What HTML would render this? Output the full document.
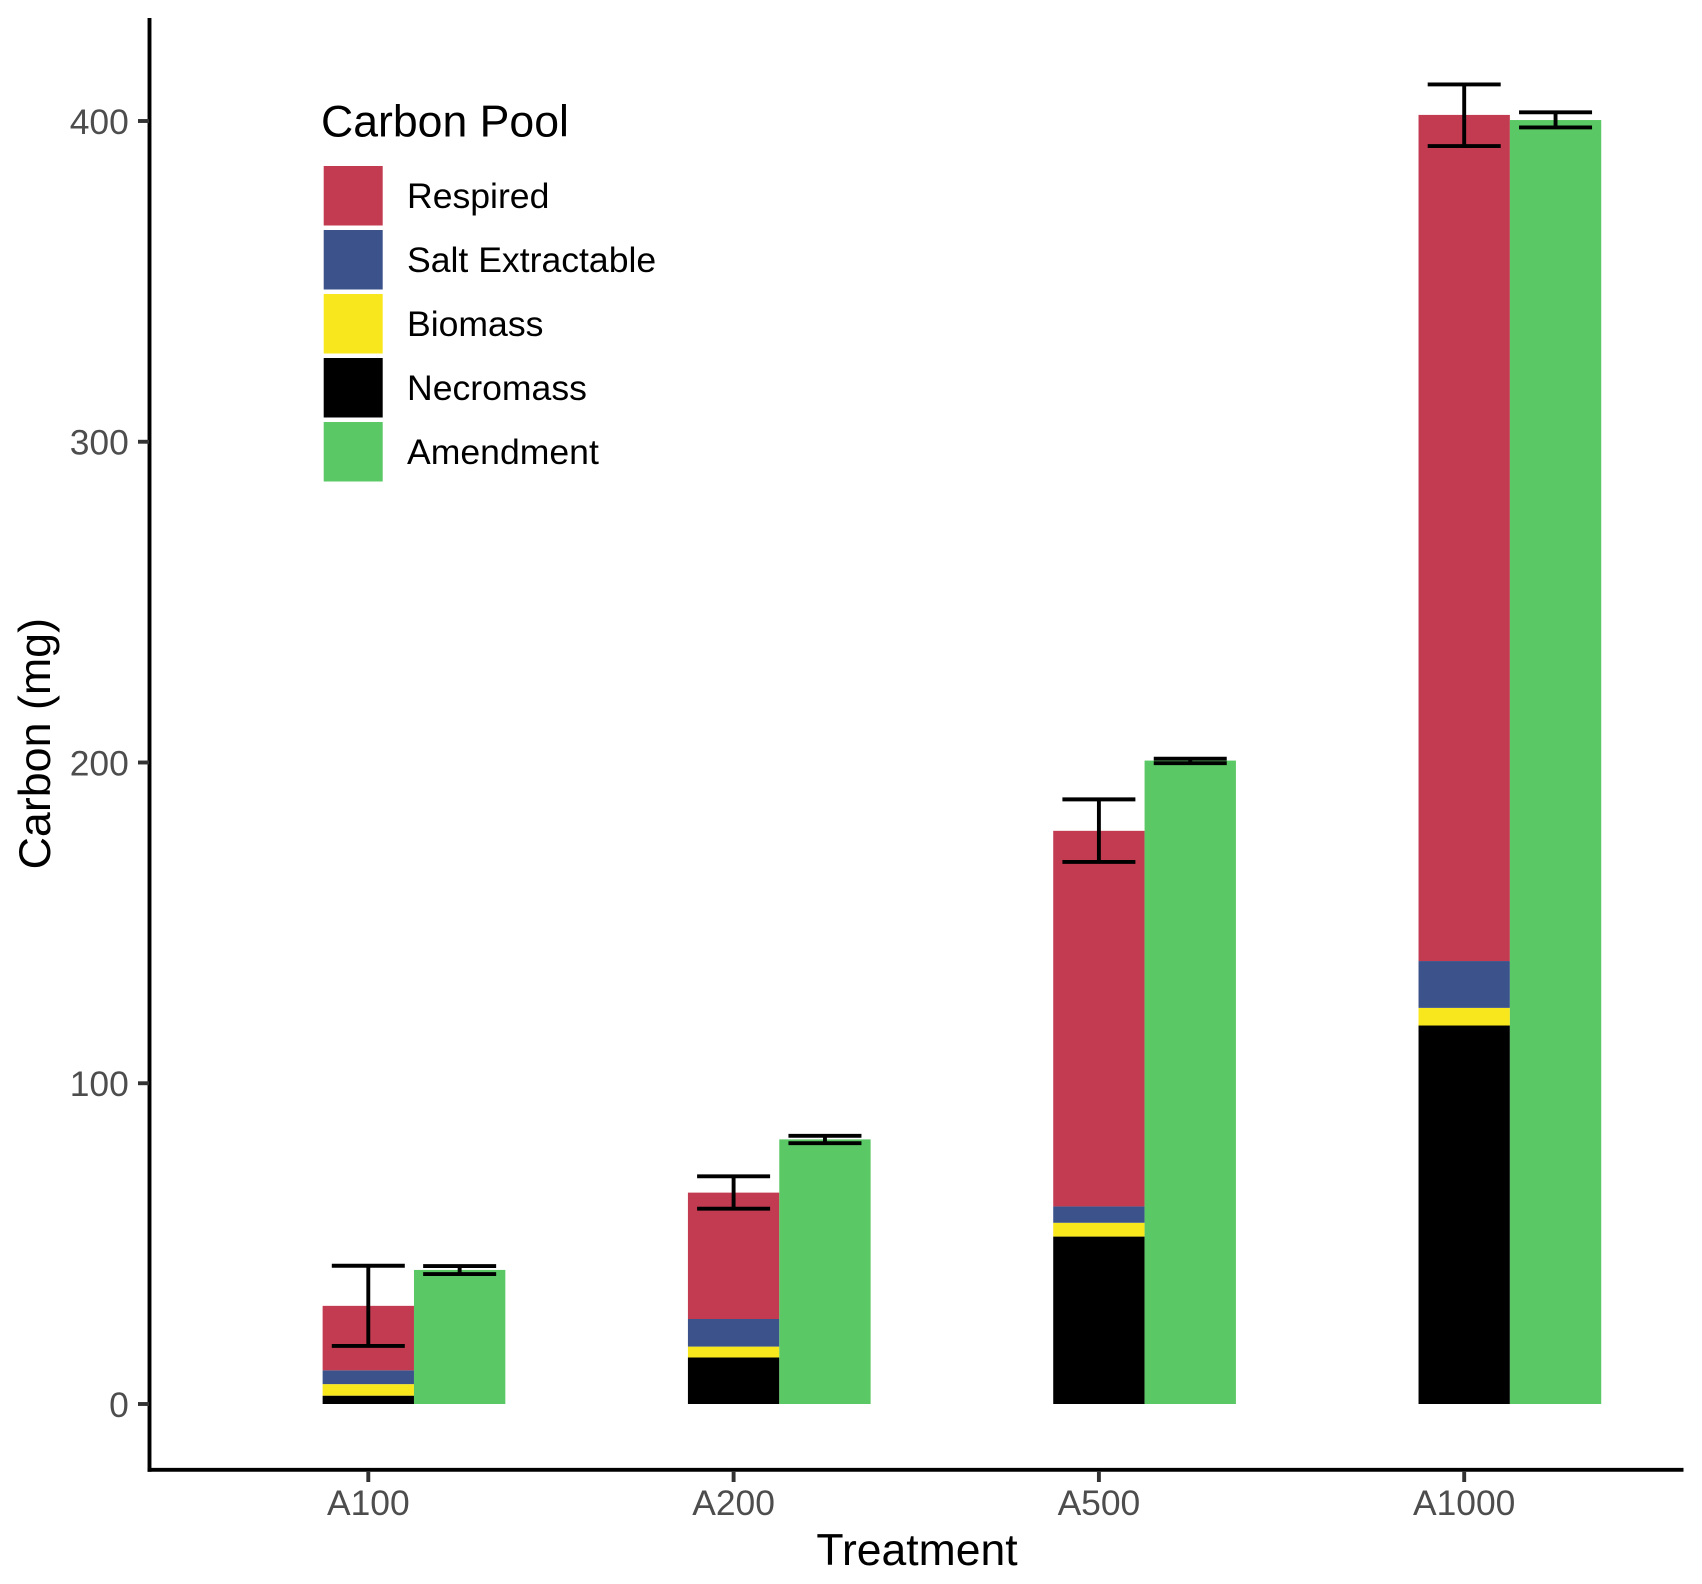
<!DOCTYPE html>
<html>
<head>
<meta charset="utf-8">
<title>Carbon by Treatment</title>
<style>
html,body{margin:0;padding:0;background:#fff;}
svg{display:block;font-family:"Liberation Sans",sans-serif;}
</style>
</head>
<body>
<svg id="chart" xmlns="http://www.w3.org/2000/svg" width="1702" height="1584" viewBox="0 0 1702 1584">
  <rect x="0" y="0" width="1702" height="1584" fill="#ffffff"/>
  <g id="marks"></g>
  <g id="axes"></g>
  <text x="917" y="1565" font-size="44.5" text-anchor="middle" fill="#000">Treatment</text>
  <text transform="translate(50 743.7) rotate(-90)" font-size="44.8" text-anchor="middle" fill="#000">Carbon (mg)</text>
  <g>
    <text x="321" y="136.5" font-size="44.6" fill="#000">Carbon Pool</text>
    <rect x="323.7" y="166" width="59" height="59.5" fill="#C23B50"/>
    <text x="407" y="208" font-size="35.6" fill="#000">Respired</text>
    <rect x="323.7" y="230" width="59" height="59.5" fill="#3B528B"/>
    <text x="407" y="272" font-size="35.6" fill="#000">Salt Extractable</text>
    <rect x="323.7" y="294" width="59" height="59.5" fill="#F9E71E"/>
    <text x="407" y="336" font-size="35.6" fill="#000">Biomass</text>
    <rect x="323.7" y="358" width="59" height="59.5" fill="#000000"/>
    <text x="407" y="400" font-size="35.6" fill="#000">Necromass</text>
    <rect x="323.7" y="422" width="59" height="59.5" fill="#5AC864"/>
    <text x="407" y="464" font-size="35.6" fill="#000">Amendment</text>
  </g>
</svg>
<script>
const categories = ["A100", "A200", "A500", "A1000"];
const yTicks = [0, 100, 200, 300, 400];

// Stacked pool heights (mg)
const necromass = [2.6, 14.5, 52.2, 118.0];
const biomass = [3.6, 3.4, 4.3, 5.5];
const saltExtractable = [4.3, 8.6, 5.1, 14.6];
const respired = [20.1, 39.4, 117.1, 263.8];
const amendment = [41.8, 82.5, 200.6, 400.3];

// Error bar limits (mg)
const stackErrLow = [18.1, 60.9, 169.0, 392.2];
const stackErrHigh = [43.1, 71.0, 188.5, 411.4];
const amendErrLow = [40.5, 81.3, 199.8, 398.0];
const amendErrHigh = [43.0, 83.6, 201.2, 402.7];

const NS = "http://www.w3.org/2000/svg";
const marks = document.getElementById("marks");
const axes = document.getElementById("axes");

function xScale(i) { return 368.3 + 365.3 * i; }
function yScale(v) { return 1404 - 3.2075 * v; }
const BAR_W = 91.35;
const CAP_HALF = 36.5;

function make(tag, attrs, parent) {
  const el = document.createElementNS(NS, tag);
  for (const k in attrs) el.setAttribute(k, attrs[k]);
  parent.appendChild(el);
  return el;
}

function barRect(x, base, height, fill, parent) {
  return make("rect", {
    x: x,
    y: yScale(base + height),
    width: BAR_W,
    height: yScale(base) - yScale(base + height),
    fill: fill
  }, parent);
}

function errorBar(cx, low, high, parent) {
  const g = make("g", { stroke: "#000", "stroke-width": 3.9, fill: "none" }, parent);
  
  
  make("line", { x1: cx, x2: cx, y1: yScale(low), y2: yScale(high) }, g);
  make("line", { x1: cx - CAP_HALF, x2: cx + CAP_HALF, y1: yScale(low), y2: yScale(low) }, g);
  make("line", { x1: cx - CAP_HALF, x2: cx + CAP_HALF, y1: yScale(high), y2: yScale(high) }, g);
  return g;
}

categories.forEach(function (cat, i) {
  const c = xScale(i);
  const left = c - BAR_W / 2;
  let base = 0;

  const necro = barRect(left, base, necromass[i], "#000000", marks);
  
  
  base += necromass[i];

  const bio = barRect(left, base, biomass[i], "#F9E71E", marks);
  
  
  base += biomass[i];

  const salt = barRect(left, base, saltExtractable[i], "#3B528B", marks);
  
  
  base += saltExtractable[i];

  const resp = barRect(left, base, respired[i], "#C23B50", marks);
  
  

  const amend = barRect(left + BAR_W, 0, amendment[i], "#5AC864", marks);
  
  
});

categories.forEach(function (cat, i) {
  const c = xScale(i);
  errorBar(c, stackErrLow[i], stackErrHigh[i], marks);
  errorBar(c + BAR_W, amendErrLow[i], amendErrHigh[i], marks);
});

const yAxisLine = make("line", { x1: 149.5, x2: 149.5, y1: 18, y2: 1471.8, stroke: "#000", "stroke-width": 3.9 }, axes);



const xAxisLine = make("line", { x1: 147.5, x2: 1683.5, y1: 1469.8, y2: 1469.8, stroke: "#000", "stroke-width": 3.9 }, axes);



yTicks.forEach(function (t) {
  const y = yScale(t);
  const tick = make("line", { x1: 138, x2: 149, y1: y, y2: y, stroke: "#333333", "stroke-width": 3.9 }, axes);
  
  
  const label = make("text", { x: 128.8, y: y + 12.8, "font-size": 35.4, "text-anchor": "end", fill: "#4D4D4D" }, axes);
  
  
  label.textContent = String(t);
});

categories.forEach(function (cat, i) {
  const x = xScale(i);
  const tick = make("line", { x1: x, x2: x, y1: 1471, y2: 1482, stroke: "#333333", "stroke-width": 3.9 }, axes);
  
  
  const label = make("text", { x: x, y: 1515, "font-size": 35.4, "text-anchor": "middle", fill: "#4D4D4D" }, axes);
  
  
  label.textContent = cat;
});
</script>
</body>
</html>
